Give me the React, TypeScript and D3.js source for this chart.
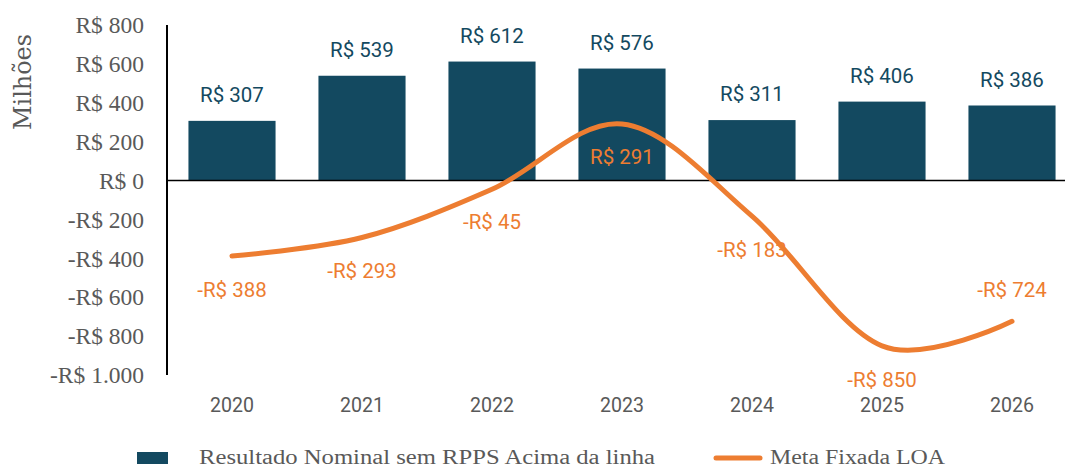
import React from "react";
import * as d3 from "d3";

const years = ["2020", "2021", "2022", "2023", "2024", "2025", "2026"];
const barValues = [307, 539, 612, 576, 311, 406, 386];
const lineValues = [-388, -293, -45, 291, -183, -850, -724];
const yTicks = [800, 600, 400, 200, 0, -200, -400, -600, -800, -1000];
const barSeriesName = "Resultado Nominal sem RPPS Acima da linha";
const lineSeriesName = "Meta Fixada LOA";
// label offset from the point for line labels
const lineLabelDy = [34, 33, 33, 33, 34, 34, -32];

const W = 1065;
const H = 468;
const BLUE = "#134960";
const ORANGE = "#ED7D31";
const GREY = "#595959";

const fmtNum = (v: number) => {
  const a = Math.abs(v);
  const s = a >= 1000 ? d3.format(",")(a).replace(/,/g, ".") : String(a);
  return (v < 0 ? "-" : "") + "R$ " + s;
};

export default function App() {
  const x0 = 167;
  const x = d3.scaleBand().domain(years).range([x0, x0 + 7 * 130]).paddingInner(0.33).paddingOuter(0.165);
  const y = d3.scaleLinear().domain([-1000, 800]).range([375, 25]);
  const cx = (yr: string) => (x(yr) as number) + x.bandwidth() / 2;

  const line = d3
    .line<number>()
    .x((_, i) => cx(years[i]))
    .y((d) => y(d))
    .curve(d3.curveCardinal.tension(0));

  return (
    <svg width={W} height={H} style={{ display: "block", position: "absolute", left: 0, top: 0 }}>
      <rect width={W} height={H} fill="#fff" />
      {/* y title */}
      <text
        transform={`translate(31,82) rotate(-90)`}
        textAnchor="middle"
        fontFamily="DejaVu Serif, serif"
        fontSize={24}
        fill={GREY}
        textLength={96}
        lengthAdjust="spacingAndGlyphs"
      >
        Milhões
      </text>
      {/* y ticks */}
      {yTicks.map((t) => (
        <text
          key={t}
          x={144}
          y={y(t)}
          dy="0.35em"
          textAnchor="end"
          fontFamily="Liberation Serif, serif"
          fontSize={23.5}
          fill={GREY}
        >
          {fmtNum(t)}
        </text>
      ))}
      {/* bars */}
      {barValues.map((v, i) => (
        <rect
          key={years[i]}
          x={x(years[i])}
          y={y(v)}
          width={x.bandwidth()}
          height={y(0) - y(v)}
          fill={BLUE}
        />
      ))}
      {/* axes */}
      <line x1={x0} x2={x0} y1={y(800)} y2={y(-1000)} stroke="#000" strokeWidth={2} />
      <line x1={x0} x2={W} y1={y(0)} y2={y(0)} stroke="#000" strokeWidth={1.5} />
      {/* line */}
      <path d={line(lineValues) || ""} fill="none" stroke={ORANGE} strokeWidth={5} strokeLinecap="round" />
      {/* bar labels */}
      {barValues.map((v, i) => (
        <text
          key={"bl" + i}
          x={cx(years[i])}
          y={y(v) - 26}
          dy="0.35em"
          textAnchor="middle"
          fontFamily="Roboto, sans-serif"
          fontSize={20.5}
          fill={BLUE}
        >
          {fmtNum(v)}
        </text>
      ))}
      {/* line labels */}
      {lineValues.map((v, i) => (
        <text
          key={"ll" + i}
          x={cx(years[i])}
          y={y(v) + lineLabelDy[i]}
          dy="0.35em"
          textAnchor="middle"
          fontFamily="Roboto, sans-serif"
          fontSize={20.5}
          fill={ORANGE}
        >
          {fmtNum(v)}
        </text>
      ))}
      {/* x labels */}
      {years.map((yr) => (
        <text
          key={"x" + yr}
          x={cx(yr)}
          y={405}
          dy="0.35em"
          textAnchor="middle"
          fontFamily="Roboto, sans-serif"
          fontSize={21}
          fill={GREY}
          textLength={44}
          lengthAdjust="spacingAndGlyphs"
        >
          {yr}
        </text>
      ))}
      {/* legend */}
      <rect x={137} y={452} width={31} height={12} fill={BLUE} />
      <text
        x={199}
        y={457}
        dy="0.35em"
        fontFamily="Liberation Serif, serif"
        fontSize={20}
        fill={GREY}
        textLength={456}
        lengthAdjust="spacingAndGlyphs"
      >
        {barSeriesName}
      </text>
      <line x1={716} x2={760} y1={458} y2={458} stroke={ORANGE} strokeWidth={5} strokeLinecap="round" />
      <text
        x={770}
        y={457}
        dy="0.35em"
        fontFamily="Liberation Serif, serif"
        fontSize={20}
        fill={GREY}
        textLength={175}
        lengthAdjust="spacingAndGlyphs"
      >
        {lineSeriesName}
      </text>
    </svg>
  );
}
